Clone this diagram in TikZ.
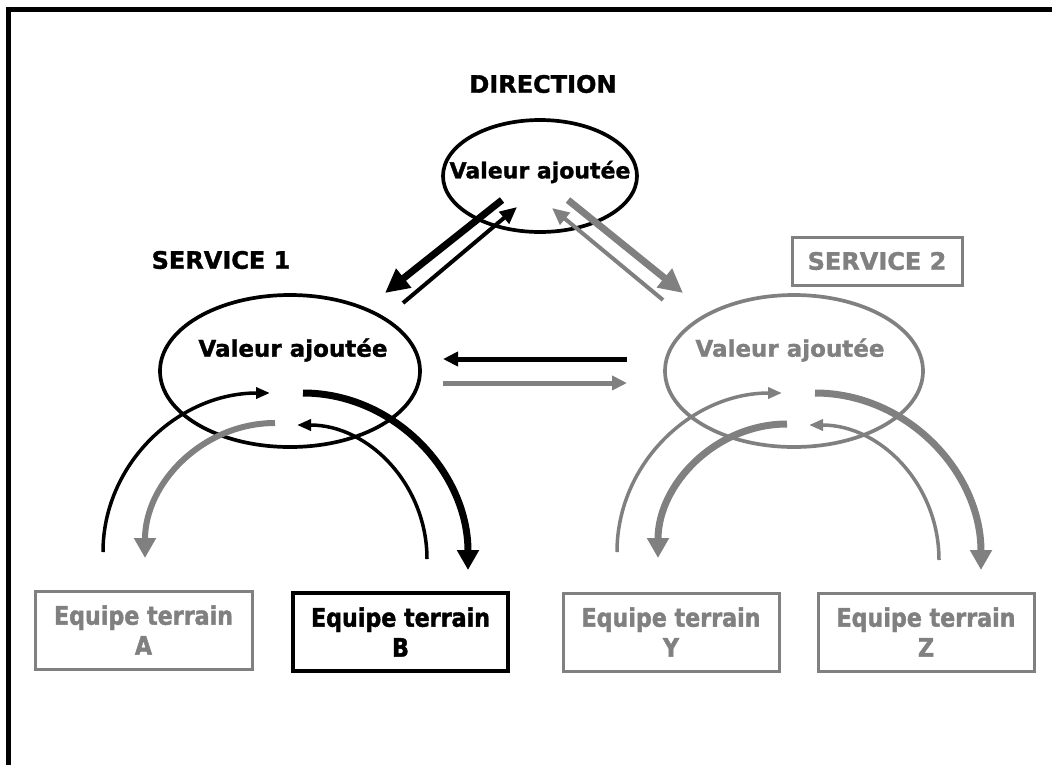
\documentclass[tikz,border=0pt]{standalone}
\usepackage{fontspec}
\setmainfont{DejaVu Sans}[BoldFeatures={FakeBold=1.4}]
\newfontfamily\teamfont{DejaVu Sans}[FakeStretch=0.87,BoldFeatures={FakeBold=1.6}]
\usetikzlibrary{arrows.meta,shapes.geometric}
\definecolor{gris}{RGB}{128,128,128}
\begin{document}
\begin{tikzpicture}[x=1pt,y=-1pt,
  lbl/.style={font=\bfseries\fontsize{24}{28}\selectfont, inner sep=0},
  vtxt/.style={font=\bfseries\fontsize{23}{28}\selectfont, inner sep=0},
  ell/.style={draw, ellipse, line width=3.7, inner sep=0},
  team/.style={draw, line width=3, minimum width=216, minimum height=78, inner sep=0,
    align=center, font=\teamfont\bfseries\fontsize{25.5}{30}\selectfont},
  thinA/.style={line width=4, -{Triangle[length=17,width=15]}},
  thickA/.style={line width=7, -{Triangle[length=24,width=23]}},
  horA/.style={line width=5, -{Triangle[length=15,width=14]}},
  arcthin/.style={line width=3.5, -{Triangle[length=14,width=11]}},
  arcthick/.style={line width=7, -{Triangle[length=20,width=21]}}]
\useasboundingbox (0,0) rectangle (1052,764);
% outer frame (cut by the page on the right and bottom)
\draw[line width=5] (8,780) -- (8,9) -- (1070,9);

% DIRECTION
\node[lbl] (dirL) at (543,84) {DIRECTION};
\node[ell, minimum width=194, minimum height=112] (dirE) at (540,176) {};
\node[font=\bfseries\fontsize{22}{26}\selectfont, inner sep=0] (dirT) at (540,172) {Valeur ajoutée};

% SERVICE 1
\node[lbl] (s1L) at (221,260) {SERVICE 1};
\node[ell, minimum width=260, minimum height=152] (s1E) at (290,371) {};
\node[vtxt] (s1T) at (293,350) {Valeur ajoutée};

% SERVICE 2
\node[lbl, draw=gris, text=gris, line width=3, minimum width=170, minimum height=48] (s2L) at (877,261) {SERVICE 2};
\node[ell, draw=gris, minimum width=258, minimum height=152] (s2E) at (794,371) {};
\node[vtxt, text=gris] (s2T) at (790,350) {Valeur ajoutée};

% teams
\node[team, draw=gris, text=gris, minimum width=217] (tA) at (143.5,630) {Equipe terrain\\A};
\node[team, line width=3.5, minimum width=215] (tB) at (400.5,632) {Equipe terrain\\B};
\node[team, draw=gris, text=gris] (tY) at (671,632) {Equipe terrain\\Y};
\node[team, draw=gris, text=gris] (tZ) at (926,632) {Equipe terrain\\Z};

% arrow end points
\coordinate (d1s) at (502,200); \coordinate (d1e) at (385,293);
\coordinate (d2s) at (403,303); \coordinate (d2e) at (517,207);
\coordinate (d3s) at (663,300); \coordinate (d3e) at (552,208);
\coordinate (d4s) at (568,200); \coordinate (d4e) at (683,293);
\coordinate (h1s) at (627,359); \coordinate (h1e) at (443,359);
\coordinate (h2s) at (443,383); \coordinate (h2e) at (627,383);

\coordinate (a1s) at (103,552); \coordinate (a1e) at (270,393);
\coordinate (a2s) at (275,423); \coordinate (a2e) at (145,558);
\coordinate (a3s) at (427,559); \coordinate (a3e) at (297,425);
\coordinate (a4s) at (303,393); \coordinate (a4e) at (468,570);

\coordinate (b1s) at (617,552); \coordinate (b1e) at (782,393);
\coordinate (b2s) at (787,424); \coordinate (b2e) at (658,558);
\coordinate (b3s) at (939,560); \coordinate (b3e) at (809,425);
\coordinate (b4s) at (815,393); \coordinate (b4e) at (981,570);

% direction <-> services
\draw[thickA] (d1s) -- (d1e);
\draw[thinA] (d2s) -- (d2e);
\draw[thinA, gris] (d3s) -- (d3e);
\draw[thickA, gris] (d4s) -- (d4e);

% service <-> service
\draw[horA] (h1s) -- (h1e);
\draw[horA, gris] (h2s) -- (h2e);

% service 1 loops
\draw[arcthin] (a1s) .. controls (103,464) and (178,393) .. (a1e);
\draw[arcthick, gris, line width=6] (a2s) .. controls (203,423) and (145,483) .. (a2e);
\draw[arcthin] (a3s) .. controls (427,485) and (369,425) .. (a3e);
\draw[arcthick] (a4s) .. controls (394,393) and (468,472) .. (a4e);

% service 2 loops
\draw[arcthin, gris] (b1s) .. controls (617,464) and (691,393) .. (b1e);
\draw[arcthick, gris] (b2s) .. controls (716,424) and (658,484) .. (b2e);
\draw[arcthin, gris] (b3s) .. controls (939,485) and (881,425) .. (b3e);
\draw[arcthick, gris] (b4s) .. controls (907,393) and (981,472) .. (b4e);
\end{tikzpicture}
\end{document}
